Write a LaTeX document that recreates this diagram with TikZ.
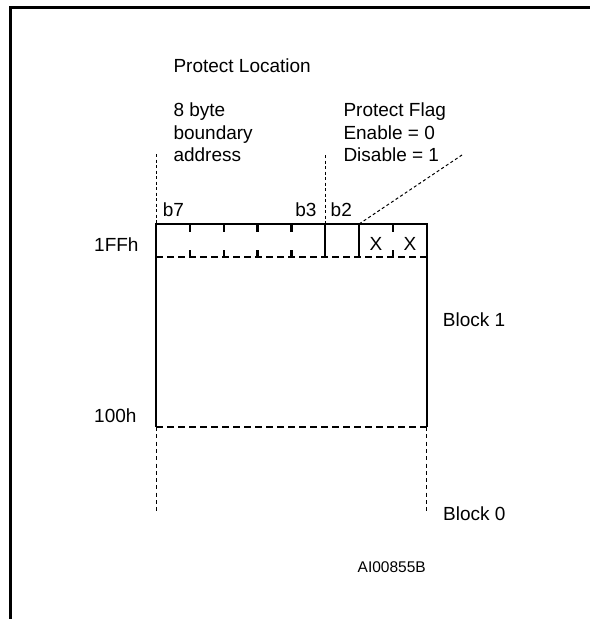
\documentclass[tikz,border=0pt]{standalone}
\usepackage{fontspec}
\setmainfont{Liberation Sans}
\begin{document}
\begin{tikzpicture}[x=1pt,y=-1pt,
  lbl/.style={inner sep=0pt, anchor=base west, font=\fontsize{19}{22.6}\selectfont},
  solidln/.style={line width=2.2pt},
  fine/.style={line width=1pt, dash pattern=on 3pt off 2.5pt},
  finelow/.style={line width=1pt, dash pattern=on 4pt off 3.3pt},
  dashh/.style={line width=2.2pt, dash pattern=on 7pt off 4pt},
  frame/.style={line width=3pt}
]
\useasboundingbox (0,0) rectangle (590,619);
% frame
\draw[frame] (10.7,619) -- (10.7,7) -- (590,7);
% coordinates
\def\cw{33.85}
\coordinate (tl) at (156,224);
\coordinate (tr) at (426.8,224);
\coordinate (rl) at (156,257);
\coordinate (rr) at (426.8,257);
\coordinate (bl) at (156,427);
\coordinate (br) at (426.8,427);
\coordinate (el) at (156,512);
\coordinate (er) at (426.8,512);
\coordinate (d5t) at (325.25,224);
\coordinate (d5b) at (325.25,257);
\coordinate (d6t) at (359.1,224);
\coordinate (d6b) at (359.1,257);
\coordinate (vl) at (156,154);
\coordinate (vm) at (325.25,155);
\coordinate (diag) at (462,155);
% box
\draw[solidln] (rl) -- (tl) -- (tr) -- (rr);
\draw[solidln] (rl) -- (bl);
\draw[solidln] (rr) -- (br);
\draw[solidln] (d5t) -- (d5b);
\draw[solidln] (d6t) -- (d6b);
\foreach \i in {1,2,3,4,7}{
  \draw[solidln] (156+\i*\cw,224) -- ++(0,8);
  \draw[solidln] (156+\i*\cw,257) -- ++(0,-7);
}
\draw[dashh] (rl) -- (rr);
\draw[dashh] (bl) -- (br);
% fine dotted lines
\draw[fine] (vl) -- (tl);
\draw[fine] (vm) -- (d5t);
\draw[fine] (d6t) -- (diag);
\draw[finelow] (bl) -- (el);
\draw[finelow] (br) -- (er);
% labels
\node[lbl] (pl) at (173.3,72.7) {Protect Location};
\node[lbl] (eb1) at (173.3,116.7) {8 byte};
\node[lbl] (eb2) at (173.3,139.3) {boundary};
\node[lbl] (eb3) at (173.3,161.8) {address};
\node[lbl] (pf1) at (343.3,116.7) {Protect Flag};
\node[lbl] (pf2) at (343.3,139.3) {Enable = 0};
\node[lbl] (pf3) at (343.3,161.8) {Disable = 1};
\node[lbl] (b7) at (162.7,216) {b7};
\node[lbl, anchor=base east] (b3) at (316.7,216) {b3};
\node[lbl] (b2) at (330.5,216) {b2};
\node[lbl, anchor=base] (x1) at (376,250) {X};
\node[lbl, anchor=base] (x2) at (410,250) {X};
\node[lbl] (ffh) at (94,251) {1FFh};
\node[lbl] (hh) at (94,422) {100h};
\node[lbl] (blk1) at (442.7,326.7) {Block 1};
\node[lbl] (blk0) at (443,520) {Block 0};
\node[lbl, anchor=base east, font=\fontsize{15.5}{18}\selectfont] (ai) at (426,572.5) {AI00855B};
\end{tikzpicture}
\end{document}
